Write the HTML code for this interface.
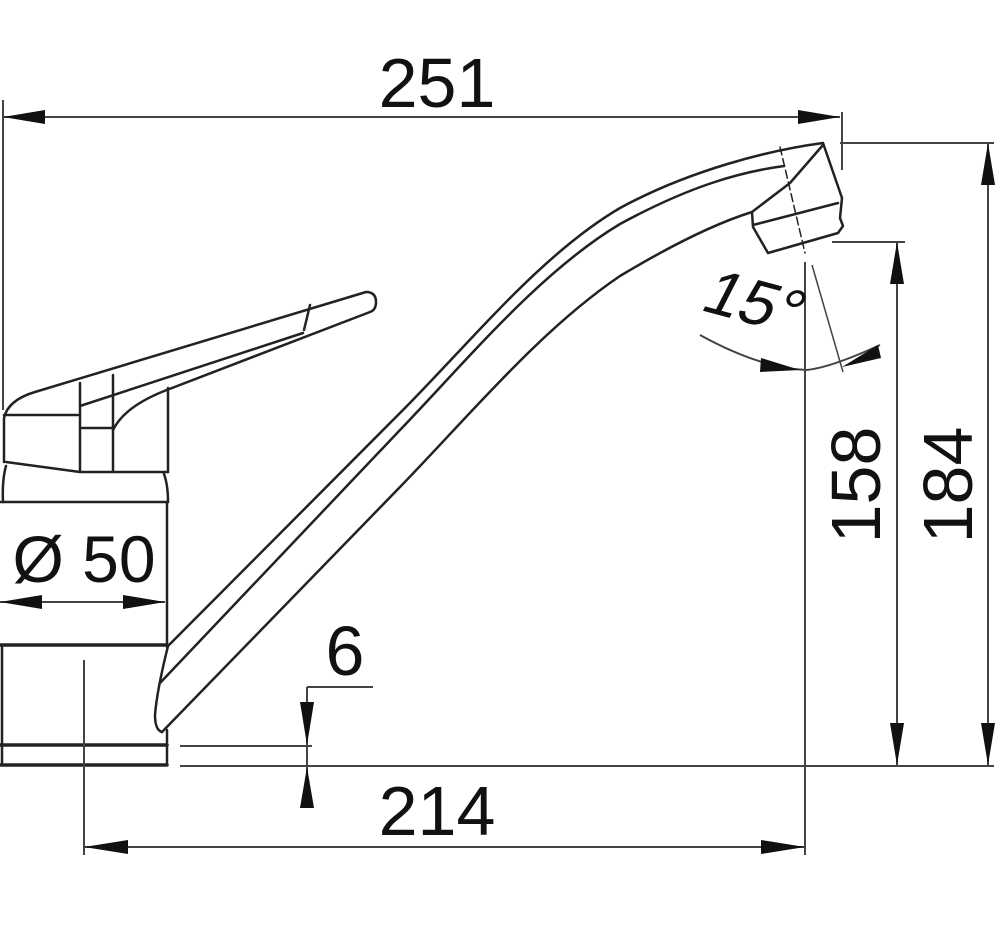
<!DOCTYPE html>
<html><head><meta charset="utf-8"><style>
html,body{margin:0;padding:0;background:#fff;}
svg{display:block;}
text{font-family:"Liberation Sans",sans-serif;fill:#111;}
</style></head><body>
<svg width="1000" height="927" viewBox="0 0 1000 927" xmlns="http://www.w3.org/2000/svg">
<g fill="none" stroke="#222" stroke-width="2.5" stroke-linejoin="round" stroke-linecap="round">
<!-- lever -->
<path d="M4,462 L4,418 Q8,400 35,392 L366,292 Q376,292 376,302 Q376,310 370,312 L172,388"/>
<path d="M310,305 L304,330"/>
<path d="M80,406 L303,333"/>
<path d="M80,428 L113,428"/>
<path d="M113,430 Q125,405 172,388"/>
<path d="M4,415 L78,415"/>
<path d="M80,383 L80,472"/>
<path d="M113,375 L113,472"/>
<path d="M168,388 L168,472"/>
<path d="M6,462 L80,472 L168,472"/>
<!-- body -->
<path d="M6,466 Q2,480 3,502"/>
<path d="M164,474 Q168,485 168,502"/>
<path d="M0,502 L168,502"/>
<path d="M167,502 L167,645"/>
<path d="M167,730 L167,765"/>
<path d="M0,645 L167,645" stroke-width="3.5"/>
<path d="M0,745 L167,745" stroke-width="3.5"/>
<path d="M0,765 L167,765" stroke-width="3.5"/>
<path d="M2,645 L2,765"/>
<!-- spout -->
<path d="M168,646 Q157,690 155,715 Q155,730 162,732"/>
<path d="M167,647 L400,413 C470,343 540,255 620,208 C690,170 770,150 823,143"/>
<path d="M160,683 L400,430 C470,357 540,272 620,224 C690,186 740,172 784,166"/>
<path d="M162,732 L400,487 C470,415 540,330 620,276 C680,240 720,222 752,212"/>
<!-- head -->
<path d="M823,143 L842,198 L840,218 L843,226 L838,233 L768,253 L753,227 L752,212 L790,183 L823,145"/>
<path d="M753,225 L838,203"/>
<path d="M780,147 L805,253" stroke-dasharray="8,4" stroke-width="1.5"/>
</g>
<g fill="none" stroke="#444" stroke-width="2">
<path d="M3,100 L3,410"/>
<path d="M3,117 L840,117"/>
<path d="M842,112 L842,170"/>
<path d="M840,143 L994,143"/>
<path d="M988,143 L988,765"/>
<path d="M832,242 L905,242"/>
<path d="M897,242 L897,765"/>
<path d="M805,262 L805,855"/>
<path d="M812,265 L843,372" stroke-width="1.5"/>
<path d="M700,335 Q760,368 806,370 Q830,368 880,345"/>
<path d="M180,746 L312,746"/>
<path d="M180,766 L994,766"/>
<path d="M307,687 L307,808"/>
<path d="M307,687 L373,687"/>
<path d="M84,660 L84,855"/>
<path d="M84,847 L805,847"/>
<path d="M0,602 L165,602"/>
</g>
<g fill="#111">
<polygon points="3,117 45,110 45,124"/>
<polygon points="840,117 798,110 798,124"/>
<polygon points="988,143 981,185 995,185"/>
<polygon points="988,765 981,723 995,723"/>
<polygon points="897,242 890,284 904,284"/>
<polygon points="897,765 890,723 904,723"/>
<polygon points="84,847 128,840 128,854"/>
<polygon points="805,847 761,840 761,854"/>
<polygon points="0,602 42,595 42,609"/>
<polygon points="165,602 123,595 123,609"/>
<polygon points="307,745 300,702 314,702"/>
<polygon points="307,767 300,808 314,808"/>
<polygon points="800,370 761,358 760,372"/>
<polygon points="842,367 878,345 881,358"/>
</g>
<g font-size="70">
<text x="437" y="107" text-anchor="middle">251</text>
<text x="437" y="835" text-anchor="middle">214</text>
<text x="345" y="675" text-anchor="middle">6</text>
<text x="84" y="582" text-anchor="middle" font-size="66">Ø 50</text>
<text transform="translate(880,485) rotate(-90)" text-anchor="middle">158</text>
<text transform="translate(972,485) rotate(-90)" text-anchor="middle">184</text>
<text transform="translate(745,322) rotate(15) skewX(-12)" text-anchor="middle" font-size="64">15°</text>
</g>
</svg>
</body></html>
